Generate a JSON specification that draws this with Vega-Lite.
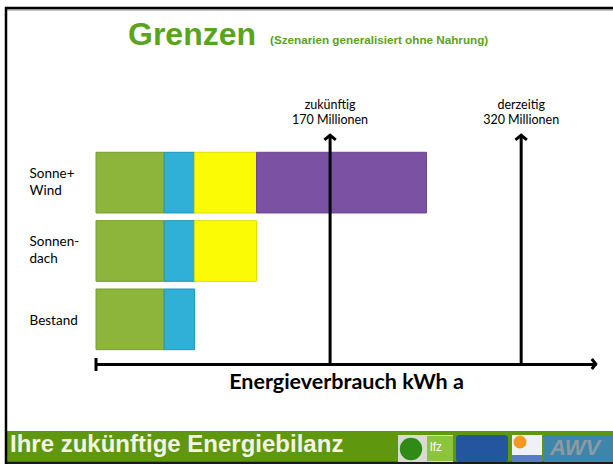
{
  "$schema": "https://vega.github.io/schema/vega-lite/v6.json",
  "width": 500,
  "height": 229,
  "autosize": {"type": "none"},
  "padding": {"left": 96, "top": 135, "right": 17, "bottom": 100},
  "background": "white",
  "config": {"view": {"stroke": null}, "font": "Lato"},
  "datasets": {
    "segmente": [
      {"szenario": "Sonne+Wind", "quelle": "Biomasse", "von": 0, "bis": 46},
      {"szenario": "Sonne+Wind", "quelle": "Wasserkraft", "von": 46, "bis": 68},
      {"szenario": "Sonne+Wind", "quelle": "Sonnendach", "von": 68, "bis": 114},
      {"szenario": "Sonne+Wind", "quelle": "Sonne und Wind", "von": 114, "bis": 245},
      {"szenario": "Sonnendach", "quelle": "Biomasse", "von": 0, "bis": 46},
      {"szenario": "Sonnendach", "quelle": "Wasserkraft", "von": 46, "bis": 68},
      {"szenario": "Sonnendach", "quelle": "Sonnendach", "von": 68, "bis": 114},
      {"szenario": "Bestand", "quelle": "Biomasse", "von": 0, "bis": 46},
      {"szenario": "Bestand", "quelle": "Wasserkraft", "von": 46, "bis": 68}
    ],
    "marken": [
      {"bezeichnung": "zukünftig", "wert": 170, "beschriftung": ["zukünftig", "170 Millionen"]},
      {"bezeichnung": "derzeitig", "wert": 320, "beschriftung": ["derzeitig", "320 Millionen"]}
    ]
  },
  "layer": [
    {
      "data": {"values": [{}]},
      "mark": {"type": "rect", "color": "#5f980e"},
      "encoding": {"x": {"value": -89}, "x2": {"value": 517}, "y": {"value": 296}, "y2": {"value": 327}}
    },
    {
      "data": {"values": [{}]},
      "mark": {"type": "rule", "color": "#1a1a1a", "strokeWidth": 2.5},
      "encoding": {"x": {"value": -90}, "x2": {"value": 517}, "y": {"value": 328}}
    },
    {
      "data": {"values": [{}]},
      "mark": {"type": "rule", "color": "#b0b0b0", "strokeWidth": 1.5},
      "encoding": {"x": {"value": -89}, "x2": {"value": 517}, "y": {"value": -125}}
    },
    {
      "data": {"values": [{}]},
      "mark": {"type": "rule", "color": "#000000", "strokeWidth": 2.5},
      "encoding": {"x": {"value": -91}, "x2": {"value": 517}, "y": {"value": -127}}
    },
    {
      "data": {"values": [{}]},
      "mark": {"type": "rule", "color": "#000000", "strokeWidth": 2.5},
      "encoding": {"x": {"value": -90}, "y": {"value": -128}, "y2": {"value": 329}}
    },
    {
      "data": {"values": [{}]},
      "mark": {"type": "text", "text": "Ihre zukünftige Energiebilanz", "align": "left", "baseline": "alphabetic", "font": "Liberation Sans", "fontWeight": "bold", "fontSize": 24, "color": "#f4f4e6"},
      "encoding": {"x": {"value": -86}, "y": {"value": 317}}
    },
    {
      "data": {"values": [{}]},
      "mark": {"type": "rect", "color": "#d9dbd2"},
      "encoding": {"x": {"value": 302}, "x2": {"value": 357}, "y": {"value": 300}, "y2": {"value": 327}}
    },
    {
      "data": {"values": [{}]},
      "mark": {"type": "point", "shape": "circle", "filled": true, "size": 500, "color": "#2f8a16", "opacity": 1},
      "encoding": {"x": {"value": 315}, "y": {"value": 314}}
    },
    {
      "data": {"values": [{}]},
      "mark": {"type": "rect", "color": "#8cc43c"},
      "encoding": {"x": {"value": 331}, "x2": {"value": 357}, "y": {"value": 301}, "y2": {"value": 326}}
    },
    {
      "data": {"values": [{}]},
      "mark": {"type": "text", "text": "lfz", "align": "left", "baseline": "alphabetic", "font": "Liberation Sans", "fontSize": 12, "color": "white"},
      "encoding": {"x": {"value": 334}, "y": {"value": 316}}
    },
    {
      "data": {"values": [{}]},
      "mark": {"type": "rect", "color": "#23569f", "cornerRadius": 3},
      "encoding": {"x": {"value": 360}, "x2": {"value": 412}, "y": {"value": 300}, "y2": {"value": 327}}
    },
    {
      "data": {"values": [{}]},
      "mark": {"type": "rect", "color": "#eef2f8"},
      "encoding": {"x": {"value": 416}, "x2": {"value": 446}, "y": {"value": 300}, "y2": {"value": 327}}
    },
    {
      "data": {"values": [{}]},
      "mark": {"type": "point", "shape": "circle", "filled": true, "size": 170, "color": "#f39a1e", "opacity": 1},
      "encoding": {"x": {"value": 424}, "y": {"value": 307}}
    },
    {
      "data": {"values": [{}]},
      "mark": {"type": "rect", "color": "#5a7cc8"},
      "encoding": {"x": {"value": 416}, "x2": {"value": 446}, "y": {"value": 320}, "y2": {"value": 327}}
    },
    {
      "data": {"values": [{}]},
      "mark": {"type": "rect", "color": "#3d86a9"},
      "encoding": {"x": {"value": 448}, "x2": {"value": 517}, "y": {"value": 300}, "y2": {"value": 327}}
    },
    {
      "data": {"values": [{}]},
      "mark": {"type": "text", "text": "AWV", "align": "left", "baseline": "alphabetic", "font": "Liberation Sans", "fontWeight": "bold", "fontStyle": "italic", "fontSize": 22, "color": "#8c9aa4"},
      "encoding": {"x": {"value": 454}, "y": {"value": 320}}
    },
    {
      "data": {"values": [{}]},
      "mark": {"type": "text", "text": "Grenzen", "align": "left", "baseline": "alphabetic", "font": "Liberation Sans", "fontWeight": "bold", "fontSize": 32, "color": "#5aa31c"},
      "encoding": {"x": {"value": 32}, "y": {"value": -90}}
    },
    {
      "data": {"values": [{}]},
      "mark": {"type": "text", "text": "(Szenarien generalisiert ohne Nahrung)", "align": "left", "baseline": "alphabetic", "font": "Liberation Sans", "fontWeight": "bold", "fontSize": 11.7, "color": "#5aa31c"},
      "encoding": {"x": {"value": 174}, "y": {"value": -91}}
    },
    {
      "data": {"name": "segmente"},
      "mark": {"type": "bar", "strokeWidth": 1},
      "encoding": {
        "y": {
          "field": "szenario",
          "type": "nominal",
          "sort": ["Sonne+Wind", "Sonnendach", "Bestand"],
          "scale": {"paddingInner": 0.112, "paddingOuter": 0.2312, "align": 0.547},
          "axis": {
            "title": null,
            "domain": false,
            "ticks": false,
            "tickSize": 0,
            "labelAlign": "left",
            "labelBaseline": "middle",
            "labelPadding": 67,
            "labelFont": "Lato",
            "labelFontSize": 13.5,
            "labelColor": "black",
            "labelLineHeight": 17,
            "labelExpr": "datum.label == 'Sonne+Wind' ? ['Sonne+', 'Wind'] : datum.label == 'Sonnendach' ? ['Sonnen-', 'dach'] : datum.label",
            "labelOffset": {"expr": "datum.value == 'Bestand' ? 2 : -9"}
          }
        },
        "x": {
          "field": "von",
          "type": "quantitative",
          "scale": {"type": "pow", "exponent": 0.9435, "domain": [0, 380], "nice": false},
          "axis": {
            "title": "Energieverbrauch kWh a",
            "labels": false,
            "ticks": false,
            "tickSize": 0,
            "grid": false,
            "domainColor": "black",
            "domainWidth": 3,
            "titleFont": "Lato",
            "titleFontSize": 21.5,
            "titleFontWeight": "bold",
            "titleColor": "black",
            "titlePadding": 7
          }
        },
        "x2": {"field": "bis"},
        "color": {
          "field": "quelle",
          "type": "nominal",
          "scale": {"domain": ["Biomasse", "Wasserkraft", "Sonnendach", "Sonne und Wind"], "range": ["#8db43b", "#30afd7", "#fbfb05", "#7b52a3"]},
          "legend": null
        },
        "stroke": {
          "field": "quelle",
          "type": "nominal",
          "scale": {"domain": ["Biomasse", "Wasserkraft", "Sonnendach", "Sonne und Wind"], "range": ["#7a9e30", "#2295bb", "#dede10", "#6a4592"]},
          "legend": null
        }
      }
    },
    {
      "data": {"name": "marken"},
      "mark": {"type": "rule", "strokeWidth": 3, "color": "black"},
      "encoding": {"x": {"field": "wert", "type": "quantitative"}}
    },
    {
      "data": {"name": "marken"},
      "mark": {"type": "point", "shape": "M -1 0.85 L 0 0.05 L 1 0.85", "filled": false, "strokeWidth": 3, "size": 130, "color": "black", "opacity": 1},
      "encoding": {"x": {"field": "wert", "type": "quantitative"}, "y": {"value": 0}}
    },
    {
      "data": {"name": "marken"},
      "mark": {"type": "text", "align": "center", "baseline": "bottom", "font": "Lato", "fontSize": 12.5, "lineHeight": 15, "dy": -23, "color": "black"},
      "encoding": {"x": {"field": "wert", "type": "quantitative"}, "y": {"value": 0}, "text": {"field": "beschriftung"}}
    },
    {
      "data": {"values": [{}]},
      "mark": {"type": "point", "shape": "M -0.85 -1 L -0.05 0 L -0.85 1", "filled": false, "strokeWidth": 3, "size": 100, "color": "black", "opacity": 1},
      "encoding": {"x": {"datum": 380}, "y": {"value": 229}}
    },
    {
      "data": {"values": [{}]},
      "mark": {"type": "rule", "strokeWidth": 3, "color": "black"},
      "encoding": {"x": {"datum": 0}, "y": {"value": 223}, "y2": {"value": 236}}
    }
  ]
}
